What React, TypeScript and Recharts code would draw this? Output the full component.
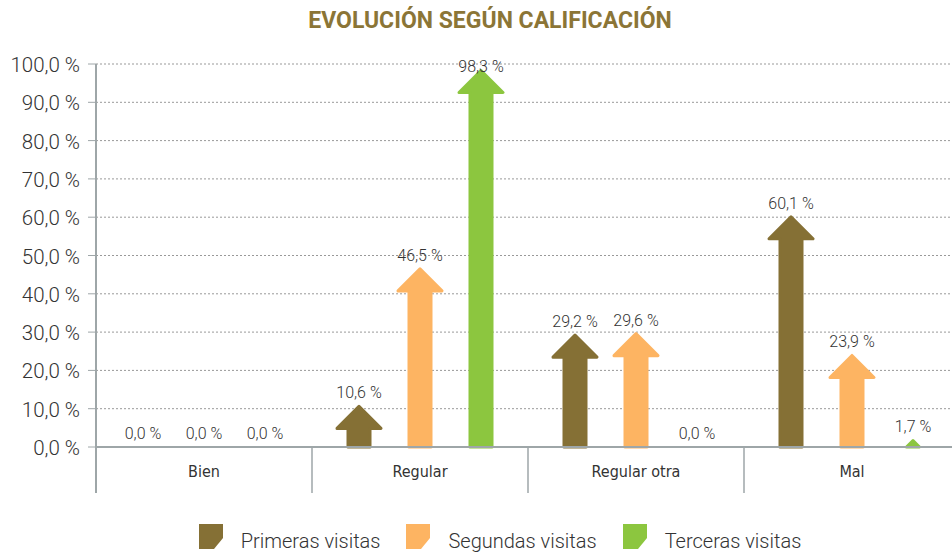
import React from "react"
import { BarChart, Bar, XAxis, YAxis, CartesianGrid, LabelList } from "recharts"

const categories = ["Bien", "Regular", "Regular otra", "Mal"]
const primeras = [0, 10.6, 29.2, 60.1]
const segundas = [0, 46.5, 29.6, 23.9]
const terceras = [0, 98.3, 0, 1.7]
const yTicks = [0, 10, 20, 30, 40, 50, 60, 70, 80, 90, 100]

const series = [
  { key: "primeras", name: "Primeras visitas", color: "#857035" },
  { key: "segundas", name: "Segundas visitas", color: "#fdb462" },
  { key: "terceras", name: "Terceras visitas", color: "#8cc63f" },
]

const data = categories.map((c, i) => ({
  name: c,
  primeras: primeras[i],
  segundas: segundas[i],
  terceras: terceras[i],
}))

const AXIS = "#9ea6a8"
const TEXT = "#333"
const NUM_FONT = "Roboto, sans-serif"
const CAT_FONT = "'Liberation Sans Narrow', 'DejaVu Sans Condensed', sans-serif"

const fmt = (v: number) => v.toFixed(1).replace(".", ",") + " %"

function Arrow(props: any) {
  const { x, y, width, height, fill } = props
  if (!height || height <= 0) return null
  const cx = x + width / 2
  const hh = width / 2
  const sw = width * 0.25
  let d: string
  if (height >= hh) {
    d = `M${cx},${y} L${x + width},${y + hh} L${cx + sw},${y + hh} L${cx + sw},${y + height} L${cx - sw},${y + height} L${cx - sw},${y + hh} L${x},${y + hh} Z`
  } else {
    d = `M${cx},${y} L${cx + height},${y + height} L${cx - height},${y + height} Z`
  }
  return <path d={d} fill={fill} stroke={fill} strokeWidth={3} strokeLinejoin="round" />
}

function ValueLabel(props: any) {
  const { x, y, width, value } = props
  return (
    <text
      x={x + width / 2}
      y={Math.max(y - 8, 72)}
      textAnchor="middle"
      fontFamily={NUM_FONT}
      fontWeight={300}
      fontSize={16}
      fill={TEXT}
    >
      {fmt(value)}
    </text>
  )
}

function CategoryTick(props: any) {
  const { x, y, payload, index, visibleTicksCount, width } = props
  const band = width / visibleTicksCount
  return (
    <g>
      <line x1={x - band / 2} x2={x - band / 2} y1={y} y2={y + 46} stroke={AXIS} strokeWidth={index === 0 ? 2 : 1.5} />
      {index === visibleTicksCount - 1 && (
        <line x1={x + band / 2} x2={x + band / 2} y1={y} y2={y + 46} stroke={AXIS} strokeWidth={1.5} />
      )}
      <text x={x} y={y + 30} textAnchor="middle" fontFamily={CAT_FONT} fontSize={16} fill={TEXT}>
        {payload.value}
      </text>
    </g>
  )
}

function PercentTick(props: any) {
  const { x, y, payload } = props
  return (
    <text x={x} y={y + 8} textAnchor="end" fontFamily={NUM_FONT} fontWeight={300} fontSize={20.5} fill={TEXT}>
      {fmt(payload.value)}
    </text>
  )
}

function LegendIcon({ color }: { color: string }) {
  return (
    <svg width={24} height={25} style={{ display: "block" }}>
      <path d="M0,0 L24,0 L24,14 L15,25 L0,25 Z" fill={color} />
    </svg>
  )
}

export default function App() {
  return (
    <div style={{ position: "absolute", left: 0, top: 0, width: 952, height: 555, overflow: "hidden", background: "#fff" }}>
      <div
        style={{
          position: "absolute",
          left: 0,
          top: 7,
          width: 980,
          textAlign: "center",
          fontFamily: "Roboto, sans-serif",
          fontWeight: 700,
          fontSize: 23,
          color: "#8b7536",
        }}
      >
        EVOLUCIÓN SEGÚN CALIFICACIÓN
      </div>
      <BarChart
        width={960}
        height={555}
        data={data}
        margin={{ top: 64, right: 0, left: 0, bottom: 62 }}
        barSize={44}
        barGap={17}
      >
        <CartesianGrid vertical={false} stroke="#999" strokeDasharray="2 2" />
        <YAxis
          domain={[0, 100]}
          ticks={yTicks}
          width={96}
          tickSize={8}
          tickMargin={8}
          interval={0}
          axisLine={{ stroke: AXIS, strokeWidth: 2 }}
          tickLine={{ stroke: AXIS }}
          tick={<PercentTick />}
        />
        <XAxis
          dataKey="name"
          height={46}
          tickSize={0}
          tickMargin={0}
          interval={0}
          axisLine={{ stroke: AXIS, strokeWidth: 2 }}
          tickLine={false}
          tick={<CategoryTick />}
        />
        {series.map((s) => (
          <Bar key={s.key} dataKey={s.key} name={s.name} fill={s.color} shape={<Arrow />} isAnimationActive={false}>
            <LabelList dataKey={s.key} content={<ValueLabel />} />
          </Bar>
        ))}
      </BarChart>
      <div
        style={{
          position: "absolute",
          left: 0,
          top: 524,
          width: 1000,
          display: "flex",
          justifyContent: "center",
          alignItems: "center",
          gap: 26,
          fontFamily: "Roboto, sans-serif",
          fontWeight: 300,
          fontSize: 20,
          color: TEXT,
        }}
      >
        {series.map((s) => (
          <div key={s.key} style={{ display: "flex", alignItems: "center", gap: 18 }}>
            <LegendIcon color={s.color} />
            <span style={{ lineHeight: "25px", position: "relative", top: 5 }}>{s.name}</span>
          </div>
        ))}
      </div>
    </div>
  )
}
